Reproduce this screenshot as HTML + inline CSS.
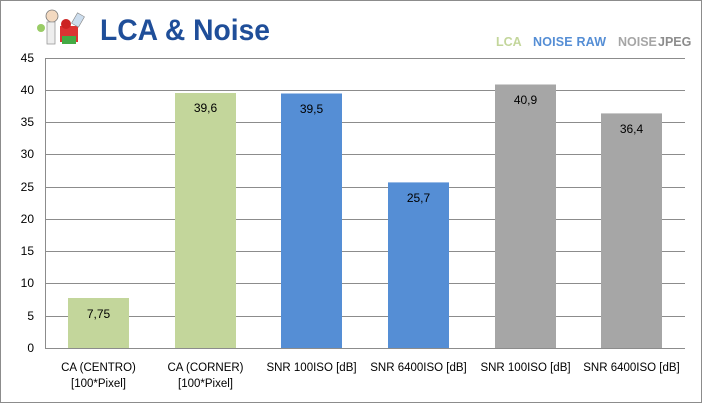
<!DOCTYPE html>
<html><head><style>
body{margin:0;background:#fff}
svg{display:block;font-family:"Liberation Sans",sans-serif}
</style></head><body>
<svg width="702" height="403" viewBox="0 0 702 403" xmlns="http://www.w3.org/2000/svg">
<rect x="0.5" y="0.5" width="701" height="402" fill="#fff" stroke="#8c8c8c"/>
<g>
<circle cx="52" cy="16" r="6" fill="#f3d9c0" stroke="#777" stroke-width="0.8"/>
<rect x="47" y="22" width="8" height="22" fill="#eee" stroke="#999" stroke-width="0.8"/>
<circle cx="41" cy="28" r="4" fill="#9c6"/>
<rect x="60" y="26" width="18" height="16" fill="#d33"/>
<circle cx="66" cy="24" r="5" fill="#c22"/>
<rect x="62" y="36" width="14" height="8" fill="#4a4"/>
<rect x="74" y="14" width="8" height="12" fill="#cde" stroke="#888" stroke-width="0.6" transform="rotate(30 78 20)"/>
</g>
<text x="100" y="40" font-size="30" font-weight="bold" fill="#1f4e99" textLength="170" lengthAdjust="spacingAndGlyphs">LCA &amp; Noise</text>
<text x="496" y="46" font-size="12.5" font-weight="bold" fill="#c3d69b">LCA</text>
<text x="533" y="46" font-size="12.5" font-weight="bold" fill="#558ed5" textLength="73" lengthAdjust="spacing">NOISE  RAW</text>
<text x="618" y="46" font-size="12.5" font-weight="bold" fill="#a6a6a6">NOISE</text>
<text x="658" y="46" font-size="12.5" font-weight="bold" fill="#8c8c8c">JPEG</text>
<g stroke="#8c8c8c" stroke-width="1">
<line x1="45" y1="58.5" x2="685" y2="58.5"/>
<line x1="45" y1="90.5" x2="685" y2="90.5"/>
<line x1="45" y1="122.5" x2="685" y2="122.5"/>
<line x1="45" y1="154.5" x2="685" y2="154.5"/>
<line x1="45" y1="187.5" x2="685" y2="187.5"/>
<line x1="45" y1="219.5" x2="685" y2="219.5"/>
<line x1="45" y1="251.5" x2="685" y2="251.5"/>
<line x1="45" y1="283.5" x2="685" y2="283.5"/>
<line x1="45" y1="316.5" x2="685" y2="316.5"/>
<line x1="45" y1="348.5" x2="685" y2="348.5"/>
<line x1="45.5" y1="58" x2="45.5" y2="348"/>
</g>
<g font-size="12" fill="#000" text-anchor="end">
<text x="34" y="62">45</text><text x="34" y="94">40</text><text x="34" y="126">35</text>
<text x="34" y="158">30</text><text x="34" y="191">25</text><text x="34" y="223">20</text>
<text x="34" y="255">15</text><text x="34" y="287">10</text><text x="34" y="320">5</text>
<text x="34" y="352">0</text>
</g>
<rect x="68" y="298" width="61" height="50" fill="#c3d69b"/>
<rect x="175" y="93" width="61" height="255" fill="#c3d69b"/>
<rect x="281" y="93.5" width="61" height="254.5" fill="#558ed5"/>
<rect x="388" y="182.4" width="61" height="165.6" fill="#558ed5"/>
<rect x="495" y="84.5" width="61" height="263.5" fill="#a6a6a6"/>
<rect x="601" y="113.4" width="61" height="234.6" fill="#a6a6a6"/>
<g font-size="12" fill="#000" text-anchor="middle">
<text x="98.5" y="318">7,75</text>
<text x="205.5" y="112">39,6</text>
<text x="311.5" y="113">39,5</text>
<text x="418.5" y="202">25,7</text>
<text x="525.5" y="104">40,9</text>
<text x="631.5" y="133">36,4</text>
</g>
<g font-size="11.5" fill="#000" text-anchor="middle">
<text x="98.5" y="371">CA (CENTRO)</text><text x="98.5" y="387">[100*Pixel]</text>
<text x="205.5" y="371">CA (CORNER)</text><text x="205.5" y="387">[100*Pixel]</text>
<text x="311.5" y="371">SNR 100ISO [dB]</text>
<text x="418.5" y="371">SNR 6400ISO [dB]</text>
<text x="525.5" y="371">SNR 100ISO [dB]</text>
<text x="631.5" y="371">SNR 6400ISO [dB]</text>
</g>
</svg>
</body></html>
